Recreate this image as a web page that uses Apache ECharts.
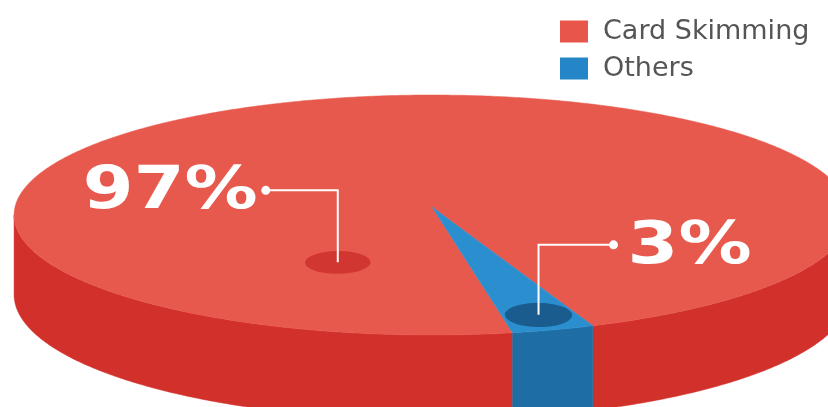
<!DOCTYPE html>
<html>
<head>
<meta charset="utf-8">
<script src="https://cdn.jsdelivr.net/npm/echarts@6/dist/echarts.min.js"></script>
<style>html,body{margin:0;padding:0;background:#fff;}#chart{width:828px;height:407px;}</style>
</head>
<body>
<div id="chart"></div>
<script>
// ---- data ----
const categories = ['Card Skimming', 'Others'];
const values = [97, 3];
const labels = ['97%', '3%'];

// ---- styles / layout ----
const topColors = ['#E8594D', '#2B8ECF'];
const sideColors = ['#D2302B', '#1E6DA5'];
const dotColors = ['#D13730', '#1B5C8F'];
const legendColors = ['#E8554B', '#2586C7'];
const START = 21.2;          // slice start angle, degrees from the front, clockwise seen from above
const cam = {cx: 432, hy: -1585, A: 26880, f: 6255, D: 15, t: 0.19};
// label anchors in pie coordinates (angle from front, radius fraction) and leader geometry
const labelLayout = [
  {angle: -26, r: 0.5, rise: 72, run: -72, gap: 8},
  {angle: null, r: 0.885, rise: 70, run: 75, gap: 14}
];

const TOTAL = values.reduce((a, b) => a + b, 0);
function sliceRange(i) {
  let a = START;
  for (let k = 0; k < i; k++) a += values[k] / TOTAL * 360;
  return [a, a + values[i] / TOTAL * 360];
}
function projXZ(X, Z, depth) {
  const w = Z + cam.D;
  return [cam.cx + cam.f * X / w, cam.hy + (cam.A + cam.f * depth) / w];
}
function proj(r, deg, depth) {
  const a = deg * Math.PI / 180;
  return projXZ(r * Math.sin(a), -r * Math.cos(a), depth);
}
function angleList(a0, a1) {
  const list = [a0, a1];
  for (let a = Math.ceil(a0 * 2) / 2; a < a1; a += 0.5) list.push(a);
  const b = Math.acos(1 / cam.D) * 180 / Math.PI;
  for (let k = -2; k <= 2; k++) {
    [b + 360 * k, -b + 360 * k].forEach(v => { if (v > a0 && v < a1) list.push(v); });
  }
  return list.sort((x, y) => x - y);
}

function renderSlice(i) {
  const [a0, a1] = sliceRange(i);
  const children = [];
  // side wall (visible front part)
  const angs = angleList(a0, a1);
  let run = [];
  const flush = () => {
    if (run.length >= 2) {
      const topPts = run.map(a => proj(1, a, 0));
      const botPts = run.map(a => proj(1, a, cam.t)).reverse();
      children.push({type: 'polygon', z2: 1, shape: {points: topPts.concat(botPts)},
        style: {fill: sideColors[i], stroke: sideColors[i], lineWidth: 0.5}});
    }
    run = [];
  };
  angs.forEach(a => {
    if (Math.cos(a * Math.PI / 180) >= 1 / cam.D - 1e-9) run.push(a); else flush();
  });
  flush();
  // top face
  const pts = [proj(0, 0, 0)];
  for (let a = a0; a < a1; a += 0.5) pts.push(proj(1, a, 0));
  pts.push(proj(1, a1, 0));
  children.push({type: 'polygon', z2: 2, shape: {points: pts},
    style: {fill: topColors[i], stroke: topColors[i], lineWidth: 0.5}});
  // label dot, leader, text
  const L = labelLayout[i];
  const ang = (L.angle === null ? (a0 + a1) / 2 : L.angle) * Math.PI / 180;
  const ax = L.r * Math.sin(ang), az = -L.r * Math.cos(ang);
  const dot = [];
  for (let s = 0; s < 360; s += 6) {
    const q = s * Math.PI / 180;
    dot.push(projXZ(ax + 0.076 * Math.cos(q), az + 0.09 * Math.sin(q), 0));
  }
  children.push({type: 'polygon', z2: 3, shape: {points: dot}, style: {fill: dotColors[i]}});
  const p = projXZ(ax, az, 0);
  const end = [p[0] + L.run, p[1] - L.rise];
  children.push({type: 'polyline', z2: 4,
    shape: {points: [p, [p[0], p[1] - L.rise], end]},
    style: {stroke: '#ffffff', lineWidth: 2, fill: null}});
  children.push({type: 'circle', z2: 4, shape: {cx: end[0], cy: end[1], r: 4.5}, style: {fill: '#ffffff'}});
  const right = L.run < 0;
  children.push({type: 'text', z2: 5,
    x: end[0] + (right ? -L.gap : L.gap), y: end[1] + 3, scaleX: 1.26,
    style: {text: labels[i], fill: '#ffffff', fontSize: 58, fontWeight: 'bold', fontFamily: 'DejaVu Sans',
      align: right ? 'right' : 'left', verticalAlign: 'middle',
      textAlign: right ? 'right' : 'left', textVerticalAlign: 'middle'}});
  return {type: 'group', children: children};
}

const chart = echarts.init(document.getElementById('chart'), null, {renderer: 'canvas'});
chart.setOption({
  backgroundColor: '#ffffff',
  animation: false,
  legend: {
    orient: 'vertical', left: 560, top: 18, padding: 0,
    itemWidth: 28, itemHeight: 22, itemGap: 10, icon: 'rect', selectedMode: false,
    data: categories,
    textStyle: {fontFamily: 'DejaVu Sans', fontSize: 27, color: '#555555', lineHeight: 22, padding: [0, 0, 0, 10]}
  },
  series: categories.map((name, i) => ({
    type: 'custom',
    name: name,
    coordinateSystem: 'none',
    silent: true,
    itemStyle: {color: legendColors[i]},
    data: [values[i]],
    renderItem: () => renderSlice(i)
  }))
});
</script>
</body>
</html>
